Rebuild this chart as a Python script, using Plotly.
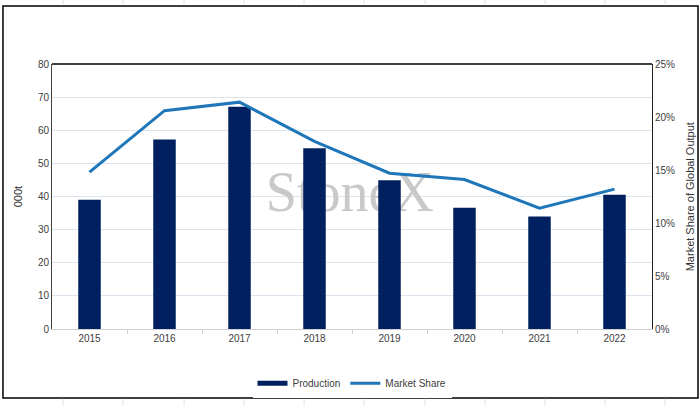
import plotly.graph_objects as go

# Data
years = [2015, 2016, 2017, 2018, 2019, 2020, 2021, 2022]
production = [39.0, 57.2, 67.1, 54.6, 44.9, 36.6, 34.0, 40.5]  # 000t
market_share = [0.148, 0.206, 0.214, 0.177, 0.147, 0.141, 0.114, 0.132]

navy = "#002060"
blue = "#1F76B8"
grid = "#DCE4EE"
font = "Liberation Sans"

fig = go.Figure()

# watermark sits on the primary axis so the bars (overlay) cover it
fig.add_trace(
    go.Scatter(
        x=[2018.47], y=[40.0], mode="text", text=["StoneX"],
        textfont=dict(family="Liberation Serif", size=56, color="#C9C9C9"),
        showlegend=False, hoverinfo="skip",
    )
)

fig.add_trace(
    go.Bar(
        x=years, y=production, name="Production", width=0.3,
        marker=dict(color=navy, line=dict(width=0)),
        yaxis="y2", showlegend=False,
    )
)

# legend entry with a wide swatch like the original
fig.add_trace(
    go.Scatter(
        x=[None], y=[None], mode="lines", name="Production",
        line=dict(color=navy, width=5), yaxis="y2",
    )
)

fig.add_trace(
    go.Scatter(
        x=years, y=market_share, name="Market Share", mode="lines",
        line=dict(color=blue, width=3), yaxis="y3",
    )
)

# frame around the whole chart
shapes = [
    dict(type="line", xref="paper", yref="paper", x0=0, x1=1, y0=1, y1=1,
         line=dict(color="black", width=1.5)),
    dict(type="rect", xref="paper", yref="paper",
         x0=-0.0817, x1=1.0767, y0=-0.260, y1=1.219,
         line=dict(color="black", width=1.5)),
]
# faint spreadsheet column lines peeking out above and below the frame
for px in [63, 123, 184, 244, 304, 364, 425, 485, 545, 605, 665]:
    xp = (px - 52) / 600
    for y0, y1 in [(1.222, 1.25), (-0.263, -0.29)]:
        shapes.append(dict(type="line", xref="paper", yref="paper",
                           x0=xp, x1=xp, y0=y0, y1=y1,
                           line=dict(color="#E2E2E2", width=1)))

fig.update_layout(
    width=700,
    height=410,
    margin=dict(l=52, r=48, t=64, b=77),
    paper_bgcolor="white",
    plot_bgcolor="white",
    font=dict(family=font, size=10, color="#404040"),
    xaxis=dict(
        range=[2014.5, 2022.5],
        tickvals=years,
        showgrid=False,
        zeroline=False,
        showline=True,
        linecolor="#D0D0D0",
        ticks="",
        automargin=False,
        minor=dict(
            tickvals=[y + 0.5 for y in years[:-1]],
            ticks="outside", ticklen=4, tickcolor="#D0D0D0",
        ),
    ),
    yaxis=dict(
        range=[0, 80],
        dtick=10,
        showgrid=True,
        gridcolor=grid,
        zeroline=False,
        showline=True,
        linecolor="#404040",
        automargin=False,
    ),
    yaxis2=dict(
        range=[0, 80], overlaying="y", visible=False, showgrid=False,
    ),
    yaxis3=dict(
        range=[0, 0.25],
        dtick=0.05,
        tickformat=".0%",
        overlaying="y",
        side="right",
        anchor="x",
        showgrid=False,
        zeroline=False,
        showline=True,
        linecolor="#202020",
        automargin=False,
    ),
    legend=dict(
        orientation="h", x=0.5, xanchor="center", y=-0.205, yanchor="middle",
        font=dict(size=10, color="#404040"), itemwidth=30,
    ),
    annotations=[
        dict(text="000t", xref="paper", yref="paper", x=-0.057, y=0.5,
             textangle=-90, showarrow=False, xanchor="center", yanchor="middle",
             font=dict(size=11, color="#333333")),
        dict(text="Market Share of Global Output", xref="paper", yref="paper",
             x=1.063, y=0.5, textangle=-90, showarrow=False,
             xanchor="center", yanchor="middle",
             font=dict(size=11, color="#333333")),
    ],
    shapes=shapes,
)

# page body has a default 8px margin; drop it so the chart sits at 0,0
fig.write_html(
    "out.html",
    config={"displayModeBar": False},
    post_script="document.body.style.margin='0px';",
)
